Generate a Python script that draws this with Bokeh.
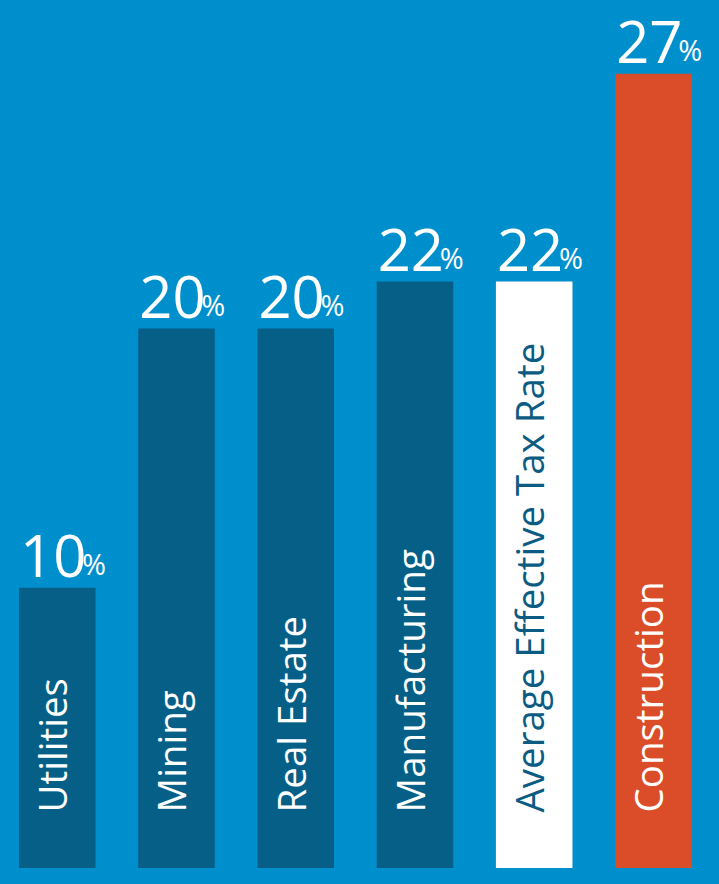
import math
from bokeh.plotting import figure
from bokeh.models import ColumnDataSource, Range1d
from bokeh.core.properties import value
from bokeh.embed import file_html
from bokeh.resources import INLINE

# ---- data ----
categories = ["Utilities", "Mining", "Real Estate", "Manufacturing",
              "Average Effective Tax Rate", "Construction"]
rates = [10, 20, 20, 22, 22, 27]                       # displayed values (%)
bar_lengths = [10.0, 19.1, 19.1, 20.75, 20.75, 28.05]  # drawn bar heights (picture is not to scale)

# ---- styles ----
BG = "#008FCD"
DARK = "#055F87"
WHITE = "#FFFFFF"
ORANGE = "#DA4D28"
bar_colors = [DARK, DARK, DARK, DARK, WHITE, ORANGE]
label_colors = [WHITE, WHITE, WHITE, WHITE, "#0B5B82", WHITE]

BAR_W = 0.642
W, H = 703, 868
X0, X1 = -0.476, 5.42
Y0, Y1 = 0.14, 30.62
px_per_y = H / (Y1 - Y0)

xs = list(range(len(categories)))
src = ColumnDataSource(dict(
    x=xs,
    xl=[x - BAR_W / 2 for x in xs],
    top=bar_lengths,
    ynum=[b + 32.0 / px_per_y for b in bar_lengths],
    ypct=[b + 24.0 / px_per_y for b in bar_lengths],
    num=[str(r) for r in rates],
    pct=["%"] * len(rates),
    cat=categories,
    bar_color=bar_colors,
    label_color=label_colors,
))

p = figure(width=W, height=H, x_range=Range1d(X0, X1), y_range=Range1d(Y0, Y1),
           output_backend="svg", toolbar_location=None, min_border=0,
           x_axis_location=None, y_axis_location=None)
p.xgrid.visible = False
p.ygrid.visible = False
p.outline_line_color = None
p.background_fill_color = BG
p.border_fill_color = BG

p.vbar(x="x", top="top", bottom=0, width=BAR_W, fill_color="bar_color",
       line_color=None, source=src)

# value labels: big number + small percent sign
p.text(x="xl", y="ynum", text="num", source=src, x_offset=1,
       text_font=value("Open Sans"), text_font_size="58px",
       text_color=WHITE, text_align="left", text_baseline="alphabetic")
p.text(x="xl", y="ypct", text="pct", source=src, x_offset=63,
       text_font=value("Open Sans"), text_font_size="29px",
       text_color=WHITE, text_align="left", text_baseline="alphabetic")

# category labels, rotated, inside the bars
p.text(x="x", y=Y0 + 56.0 / px_per_y, text="cat", source=src, angle=math.pi / 2,
       x_offset=-5, text_font=value("Open Sans"), text_font_size="38.5px",
       text_color="label_color", text_align="left", text_baseline="alphabetic")

html = None
try:
    from bokeh.core.templates import get_env
    tmpl = get_env().from_string(
        "{% extends 'file.html' %}"
        "{% block postamble %}<style>html, body { background: " + BG + "; }</style>{% endblock %}"
    )
    html = file_html(p, INLINE, template=tmpl)
except Exception:
    html = file_html(p, INLINE)

open("out.html", "w").write(html)
